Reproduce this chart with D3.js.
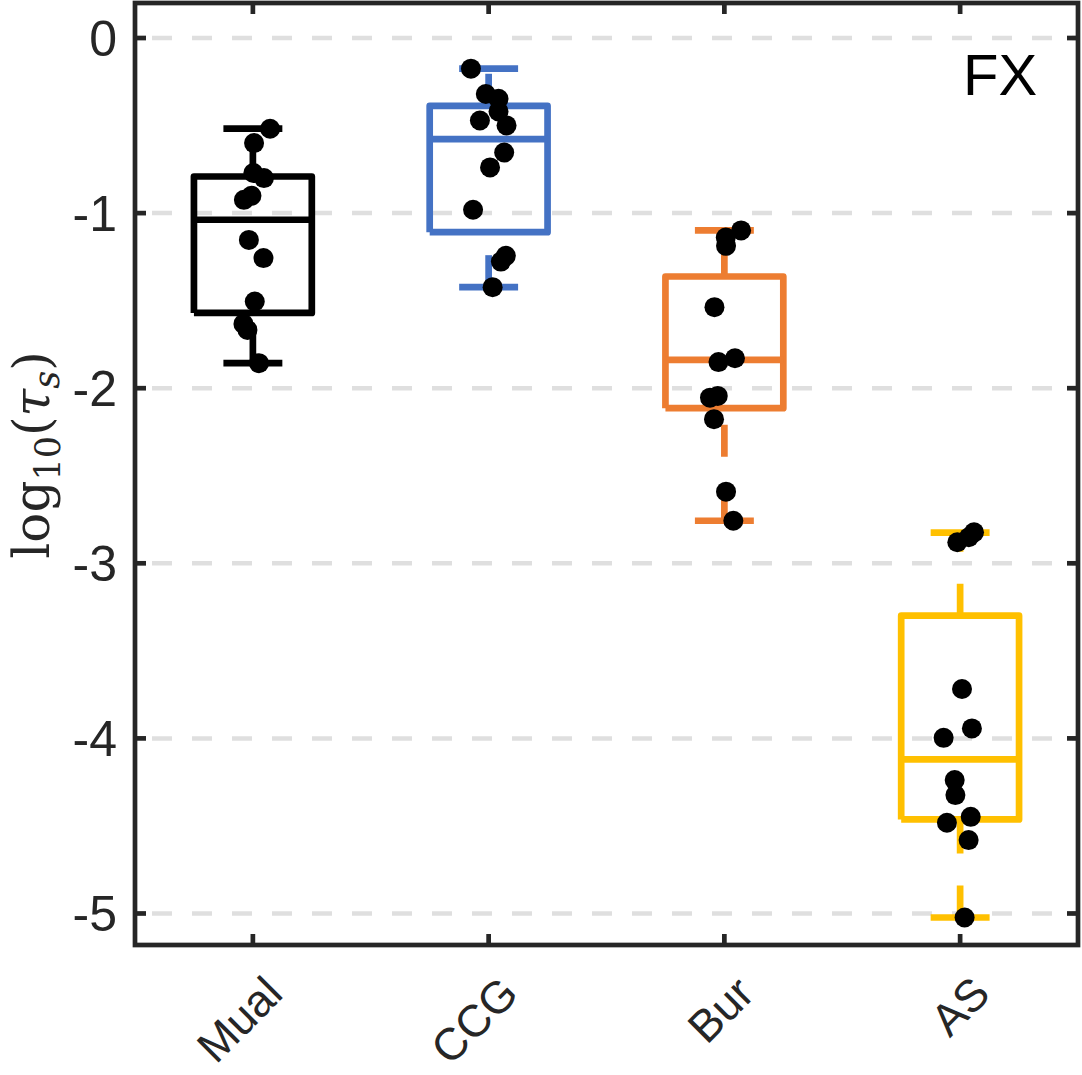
<!DOCTYPE html>
<html>
<head>
<meta charset="utf-8">
<script src="https://cdn.jsdelivr.net/npm/d3@7"></script>
<style>
  body { margin: 0; background: #fff; }
  #chart { width: 1082px; height: 1075px; }
</style>
</head>
<body>
<div id="chart"></div>
<script>
const categories = ["Mual", "CCG", "Bur", "AS"]
const boxColors = ["#000000", "#4472C4", "#ED7D31", "#FFC000"]

// box statistics (log10 tau_s)
const upperWhisker = [-0.518, -0.175, -1.099, -2.825]
const q3 = [-0.791, -0.387, -1.362, -3.299]
const medians = [-1.038, -0.577, -1.838, -4.12]
const q1 = [-1.57, -1.109, -2.114, -4.463]
const lowerWhisker = [-1.857, -1.423, -2.757, -5.023]

// individual points, with their horizontal jitter (category units)
const pointsMual = [-0.518, -0.6, -0.771, -0.8, -0.924, -0.901, -1.153, -1.257, -1.505, -1.633, -1.667, -1.857]
const jitterMual = [0.073, 0.005, 0.002, 0.047, -0.038, -0.006, -0.017, 0.045, 0.008, -0.04, -0.023, 0.026]
const pointsCCG = [-0.175, -0.32, -0.347, -0.419, -0.471, -0.499, -0.654, -0.739, -0.981, -1.244, -1.277, -1.423]
const jitterCCG = [-0.075, -0.012, 0.042, 0.042, -0.037, 0.076, 0.066, 0.006, -0.066, 0.073, 0.052, 0.017]
const pointsBur = [-1.099, -1.139, -1.187, -1.537, -1.829, -1.851, -2.044, -2.054, -2.177, -2.591, -2.757]
const jitterBur = [0.071, 0.006, 0.007, -0.042, 0.045, -0.025, -0.028, -0.061, -0.044, 0.007, 0.038]
const pointsAS = [-2.823, -2.851, -2.88, -3.718, -3.943, -3.997, -4.238, -4.324, -4.448, -4.482, -4.581, -5.023]
const jitterAS = [0.059, 0.037, -0.012, 0.008, 0.05, -0.07, -0.023, -0.02, 0.045, -0.056, 0.036, 0.019]

const yTicks = [0, -1, -2, -3, -4, -5]
const yTickLabels = ["0", "-1", "-2", "-3", "-4", "-5"]
const panelLabel = "FX"

const allPoints = [pointsMual, pointsCCG, pointsBur, pointsAS]
const allJitter = [jitterMual, jitterCCG, jitterBur, jitterAS]

const width = 1082
const height = 1075
const mLeft = 135, mRight = 1078, mTop = 3, mBottom = 945
const axisColor = "#262626"
const lw = 6.7

const svg = d3.select("#chart").append("svg").attr("width", width).attr("height", height)

const x = d3.scaleLinear().domain([0.5, 4.5]).range([mLeft, mRight])
const y = d3.scaleLinear().domain([0.2, -5.18]).range([mTop, mBottom])

const boxHalf = 0.25
const capHalf = 0.125

// dashed grid
svg.append("g")
    .selectAll("line")
    .data(yTicks)
    .join("line")
    .attr("x1", mLeft)
    .attr("x2", mRight)
    .attr("y1", d => y(d))
    .attr("y2", d => y(d))
    .attr("stroke", "#dfdfdf")
    .attr("stroke-width", 4.5)
    .attr("stroke-dasharray", "20,20")
    .attr("stroke-dashoffset", 23)

// boxes
const boxes = svg.append("g")
categories.forEach((c, i) => {
    const cx = i + 1
    const g = boxes.append("g").attr("stroke", boxColors[i]).attr("fill", "none").attr("stroke-width", lw)

    // whiskers drawn from low to high value, dashed
    g.append("line")
        .attr("x1", x(cx)).attr("x2", x(cx))
        .attr("y1", y(q3[i])).attr("y2", y(upperWhisker[i]))
        .attr("stroke-dasharray", "32,32")
    g.append("line")
        .attr("x1", x(cx)).attr("x2", x(cx))
        .attr("y1", y(lowerWhisker[i])).attr("y2", y(q1[i]))
        .attr("stroke-dasharray", "32,32")

    // caps
    g.append("line")
        .attr("x1", x(cx - capHalf)).attr("x2", x(cx + capHalf))
        .attr("y1", y(upperWhisker[i])).attr("y2", y(upperWhisker[i]))
    g.append("line")
        .attr("x1", x(cx - capHalf)).attr("x2", x(cx + capHalf))
        .attr("y1", y(lowerWhisker[i])).attr("y2", y(lowerWhisker[i]))

    // box outline
    const p = d3.path()
    p.moveTo(x(cx - boxHalf), y(q1[i]))
    p.lineTo(x(cx + boxHalf), y(q1[i]))
    p.lineTo(x(cx + boxHalf), y(q3[i]))
    p.lineTo(x(cx - boxHalf), y(q3[i]))
    p.lineTo(x(cx - boxHalf), y(q1[i]))
    g.append("path").attr("d", p.toString()).attr("stroke-linejoin", "round")

    // median
    g.append("line")
        .attr("x1", x(cx - boxHalf)).attr("x2", x(cx + boxHalf))
        .attr("y1", y(medians[i])).attr("y2", y(medians[i]))
})

// points
let dots = []
allPoints.forEach((pts, i) => {
    pts.forEach((v, j) => dots.push({ cat: i + 1, v: v, jit: allJitter[i][j] }))
})
svg.append("g")
    .selectAll("circle")
    .data(dots)
    .join("circle")
    .attr("cx", d => x(d.cat + d.jit))
    .attr("cy", d => y(d.v))
    .attr("r", 10)
    .attr("fill", "#000")

// frame and ticks
const axes = svg.append("g").attr("stroke", axisColor).attr("stroke-width", 4.7)
axes.append("rect")
    .attr("x", mLeft).attr("y", mTop)
    .attr("width", mRight - mLeft).attr("height", mBottom - mTop)
    .attr("fill", "none")

const tickLen = 11
yTicks.forEach(t => {
    axes.append("line").attr("x1", mLeft).attr("x2", mLeft + tickLen).attr("y1", y(t)).attr("y2", y(t))
    axes.append("line").attr("x1", mRight).attr("x2", mRight - tickLen).attr("y1", y(t)).attr("y2", y(t))
})
categories.forEach((c, i) => {
    axes.append("line").attr("x1", x(i + 1)).attr("x2", x(i + 1)).attr("y1", mTop).attr("y2", mTop + tickLen)
    axes.append("line").attr("x1", x(i + 1)).attr("x2", x(i + 1)).attr("y1", mBottom).attr("y2", mBottom - tickLen)
})

// y tick labels
svg.append("g")
    .selectAll("text")
    .data(yTicks)
    .join("text")
    .attr("x", 117)
    .attr("y", d => y(d) + 18)
    .attr("text-anchor", "end")
    .attr("font-family", "'Liberation Sans', Arial, sans-serif")
    .attr("font-size", 50)
    .attr("fill", axisColor)
    .text((d, i) => yTickLabels[i])

// x tick labels, rotated
svg.append("g")
    .selectAll("text")
    .data(categories)
    .join("text")
    .attr("transform", (d, i) => `translate(${x(i + 1) + 32},996) rotate(-45)`)
    .attr("text-anchor", "end")
    .attr("font-family", "'Liberation Sans', Arial, sans-serif")
    .attr("font-size", 45)
    .attr("fill", axisColor)
    .text(d => d)

// y axis label: log10(tau_s)
const ylab = svg.append("text")
    .attr("transform", "translate(49,455) rotate(-90)")
    .attr("text-anchor", "middle")
    .attr("font-family", "'DejaVu Serif', 'Liberation Serif', serif")
    .attr("font-size", 50)
    .attr("fill", axisColor)
ylab.append("tspan").text("log")
ylab.append("tspan").attr("font-size", 35).attr("dy", 11).text("10")
ylab.append("tspan").attr("dy", -11).text("(")
ylab.append("tspan").attr("font-style", "italic").text("τ")
ylab.append("tspan").attr("font-style", "italic").attr("font-size", 35).attr("dy", 10).text("s")
ylab.append("tspan").attr("dy", -10).text(")")

// panel label
svg.append("text")
    .attr("x", 963)
    .attr("y", 95)
    .attr("font-family", "'Liberation Sans', Arial, sans-serif")
    .attr("font-size", 58)
    .attr("fill", "#000")
    .text(panelLabel)
</script>
</body>
</html>
